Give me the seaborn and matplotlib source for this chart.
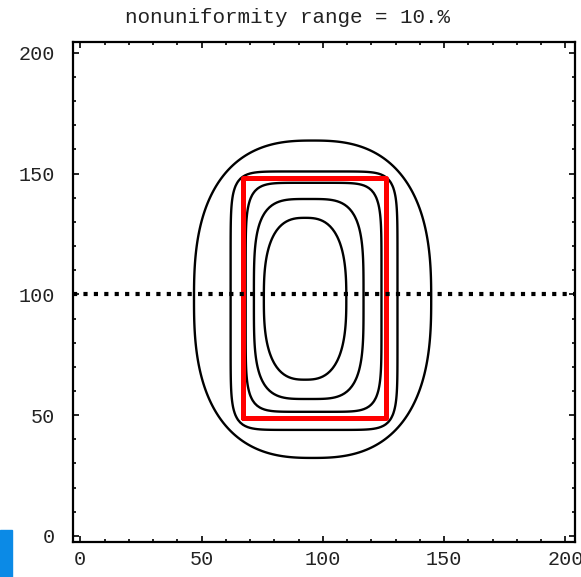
import numpy as np
import matplotlib
matplotlib.use("Agg")
import matplotlib.pyplot as plt
from matplotlib.patches import Rectangle
import seaborn as sns

# contour shapes (centre, half width, half height, corner exponent)
contour_cx = [95.8, 96.4, 96.2, 94.2, 92.7]
contour_cy = [98.0, 97.4, 98.8, 98.1, 98.2]
contour_hw = [48.9, 34.4, 28.0, 22.6, 17.0]
contour_hh = [65.7, 53.5, 47.4, 41.4, 33.5]
contour_p = [2.6, 8.0, 6.5, 3.8, 2.7]

# red outline
rect_x = [67, 126, 126, 67, 67]
rect_y = [49, 49, 148, 148, 49]

# dotted cut line
cut_x = [-3, 204]
cut_y = [100, 100]

title = "nonuniformity range = 10.%"
xticks = [0, 50, 100, 150, 200]
yticks = [0, 50, 100, 150, 200]

sns.set_theme(style="ticks")
plt.rcParams['font.family'] = ['Liberation Mono', 'DejaVu Sans']

fig = plt.figure(figsize=(5.81, 5.77), dpi=100)
ax = fig.add_axes([0.1256, 0.0607, 0.8641, 0.8665])

gx = np.arange(-3, 205, 1.0)
gy = np.arange(-3, 205, 1.0)
X, Y = np.meshgrid(gx, gy)
for cx, cy, hw, hh, p in zip(contour_cx, contour_cy, contour_hw, contour_hh, contour_p):
    r = (np.abs((X - cx) / hw) ** p + np.abs((Y - cy) / hh) ** p) ** (1.0 / p)
    ax.contour(X, Y, r, levels=[1.0], colors='black', linewidths=1.7)

sns.lineplot(x=rect_x, y=rect_y, sort=False, estimator=None, color='#ff0000',
             linewidth=3.6, ax=ax)
line = sns.lineplot(x=cut_x, y=cut_y, sort=False, estimator=None, color='black',
                    linewidth=3, ax=ax).lines[-1]
line.set_linestyle((0, (1, 1.5)))
line.set_dash_capstyle('butt')

ax.set_xlim(-3, 204)
ax.set_ylim(-2.5, 204.5)
ax.set_xticks(xticks)
ax.set_yticks(yticks)
ax.set_xticks(np.arange(0, 201, 10), minor=True)
ax.set_yticks(np.arange(0, 201, 10), minor=True)
ax.tick_params(which='both', direction='in', top=True, right=True,
               color='black', width=1.2, labelsize=14.5, labelcolor='#222222')
ax.tick_params(which='major', length=4.5)
ax.tick_params(which='minor', length=2.5)
ax.tick_params(axis='x', pad=6)
ax.tick_params(axis='y', pad=13)
for s in ax.spines.values():
    s.set_linewidth(1.6)
    s.set_color('black')
    s.set_visible(True)
fig.suptitle(title, x=0.494, y=0.969, va='center', fontsize=15, color='#222222')

fig.patches.append(Rectangle((0, 0), 12 / 581, 47 / 577, transform=fig.transFigure,
                             color='#0b8ae6', zorder=5))

fig.savefig('out.png', dpi=100)
